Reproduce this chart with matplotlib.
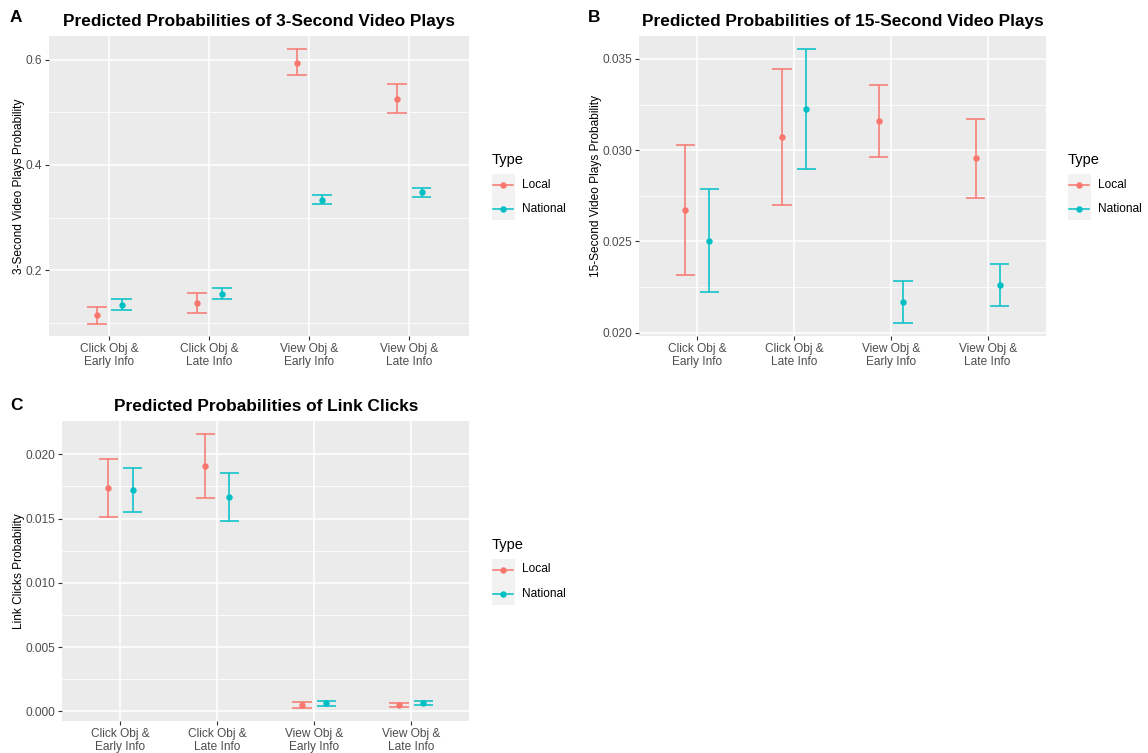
import matplotlib
matplotlib.use("Agg")
import matplotlib.pyplot as plt
from matplotlib.lines import Line2D
from matplotlib.patches import Rectangle
import numpy as np

plt.rcParams['font.family'] = ['Liberation Sans', 'DejaVu Sans']

categories = ["Click Obj &\nEarly Info", "Click Obj &\nLate Info",
              "View Obj &\nEarly Info", "View Obj &\nLate Info"]
types = ["Local", "National"]

# Panel A: 3-second video plays
A_local_est = [0.114, 0.137, 0.595, 0.526]
A_local_lo = [0.098, 0.118, 0.571, 0.499]
A_local_hi = [0.130, 0.156, 0.621, 0.554]
A_nat_est = [0.134, 0.155, 0.333, 0.348]
A_nat_lo = [0.124, 0.145, 0.326, 0.339]
A_nat_hi = [0.144, 0.166, 0.342, 0.357]

# Panel B: 15-second video plays
B_local_est = [0.02671, 0.03073, 0.03158, 0.02956]
B_local_lo = [0.02314, 0.02700, 0.02963, 0.02740]
B_local_hi = [0.03029, 0.03447, 0.03356, 0.03171]
B_nat_est = [0.02504, 0.03226, 0.02168, 0.02263]
B_nat_lo = [0.02223, 0.02899, 0.02051, 0.02146]
B_nat_hi = [0.02788, 0.03553, 0.02283, 0.02378]

# Panel C: link clicks
C_local_est = [0.01735, 0.01912, 0.00049, 0.00049]
C_local_lo = [0.01512, 0.01663, 0.00029, 0.00031]
C_local_hi = [0.01961, 0.02161, 0.00070, 0.00067]
C_nat_est = [0.01720, 0.01665, 0.00062, 0.00067]
C_nat_lo = [0.01551, 0.01479, 0.00044, 0.00049]
C_nat_hi = [0.01891, 0.01852, 0.00078, 0.00083]

COLORS = {"Local": "#F8766D", "National": "#00BFC4"}
BG = "#EBEBEB"
W, H = 1148, 753
DODGE = 0.125
CAP = 0.1

fig = plt.figure(figsize=(W / 100, H / 100), dpi=100)


def px_axes(l, t, r, b):
    return fig.add_axes([l / W, 1 - b / H, (r - l) / W, (b - t) / H])


def panel(ax, series, ylim, major, minor, fmt, ylabel):
    ax.set_facecolor(BG)
    for s in ax.spines.values():
        s.set_visible(False)
    x = np.arange(1, len(categories) + 1)
    for k, (t, (est, lo, hi)) in enumerate(zip(types, series)):
        off = -DODGE if k == 0 else DODGE
        xs = x + off
        c = COLORS[t]
        ax.vlines(xs, lo, hi, color=c, lw=1.1, zorder=3)
        ax.hlines(lo, xs - CAP, xs + CAP, color=c, lw=1.1, zorder=3)
        ax.hlines(hi, xs - CAP, xs + CAP, color=c, lw=1.1, zorder=3)
        ax.plot(xs, est, 'o', color=c, ms=3.6, zorder=4)
    ax.set_xlim(0.4, 4.6)
    ax.set_ylim(*ylim)
    ax.set_xticks(x)
    ax.set_xticklabels(categories, fontsize=8.6, color="#4D4D4D", linespacing=1.15)
    ax.set_yticks(major)
    ax.set_yticklabels([fmt.format(v) for v in major], fontsize=8.6, color="#4D4D4D")
    ax.set_yticks(minor, minor=True)
    ax.tick_params(axis='both', which='major', length=3, width=0.8, color="#333333", pad=2)
    ax.tick_params(axis='y', which='minor', length=0)
    ax.grid(True, which='major', color='white', lw=1.1, zorder=0)
    ax.grid(True, which='minor', axis='y', color='white', lw=0.55, zorder=0)
    ax.set_axisbelow(True)
    ax.set_ylabel(ylabel, fontsize=8.6, color="black", labelpad=0.5)


def legend_at(x0, y0):
    # y0: pixel y of "Type" center
    fig.text(x0 / W, 1 - y0 / H, "Type", fontsize=10.5, va='center', ha='left')
    fig.patches.append(Rectangle((x0 / W, 1 - (y0 + 60) / H), 22.5 / W, 46.5 / H,
                                 transform=fig.transFigure, facecolor="#F2F2F2",
                                 edgecolor='none'))
    for i, t in enumerate(types):
        yy = 1 - (y0 + 24.5 + i * 24.5) / H
        fig.lines.append(Line2D([(x0 + 1) / W, (x0 + 20.5) / W], [yy, yy],
                                transform=fig.transFigure, color=COLORS[t], lw=1.1))
        fig.lines.append(Line2D([(x0 + 10.75) / W], [yy], transform=fig.transFigure,
                                color=COLORS[t], marker='o', ms=3.6, lw=0))
        fig.text((x0 + 30) / W, yy, t, fontsize=8.6, va='center', ha='left')


# Panel A
axA = px_axes(49, 36, 469, 336)
panel(axA, [(A_local_est, A_local_lo, A_local_hi), (A_nat_est, A_nat_lo, A_nat_hi)],
      (0.0743, 0.6457), [0.2, 0.4, 0.6], [0.1, 0.3, 0.5], "{:.1f}",
      "3-Second Video Plays Probability")
axA.set_title("Predicted Probabilities of 3-Second Video Plays", fontsize=12.4,
              fontweight='bold', pad=7)
fig.text(10 / W, 1 - 18 / H, "A", fontsize=12.4, fontweight='bold', va='center')
legend_at(492, 160)

# Panel B
axB = px_axes(639.3, 36, 1045.7, 336)
panel(axB, [(B_local_est, B_local_lo, B_local_hi), (B_nat_est, B_nat_lo, B_nat_hi)],
      (0.01982, 0.03626), [0.020, 0.025, 0.030, 0.035], [0.0225, 0.0275, 0.0325],
      "{:.3f}", "15-Second Video Plays Probability")
axB.set_title("Predicted Probabilities of 15-Second Video Plays", fontsize=12.4,
              fontweight='bold', pad=7)
fig.text(588 / W, 1 - 18 / H, "B", fontsize=12.4, fontweight='bold', va='center')
legend_at(1068, 160)

# Panel C
axC = px_axes(62.3, 420.7, 469.3, 721)
panel(axC, [(C_local_est, C_local_lo, C_local_hi), (C_nat_est, C_nat_lo, C_nat_hi)],
      (-0.000755, 0.02262), [0.000, 0.005, 0.010, 0.015, 0.020],
      [0.0025, 0.0075, 0.0125, 0.0175], "{:.3f}", "Link Clicks Probability")
axC.set_title("Predicted Probabilities of Link Clicks", fontsize=12.4,
              fontweight='bold', pad=7)
fig.text(10 / W, 1 - 405 / H, "C", fontsize=12.4, fontweight='bold', va='center')
legend_at(492, 545)

fig.savefig("out.png", dpi=100)
